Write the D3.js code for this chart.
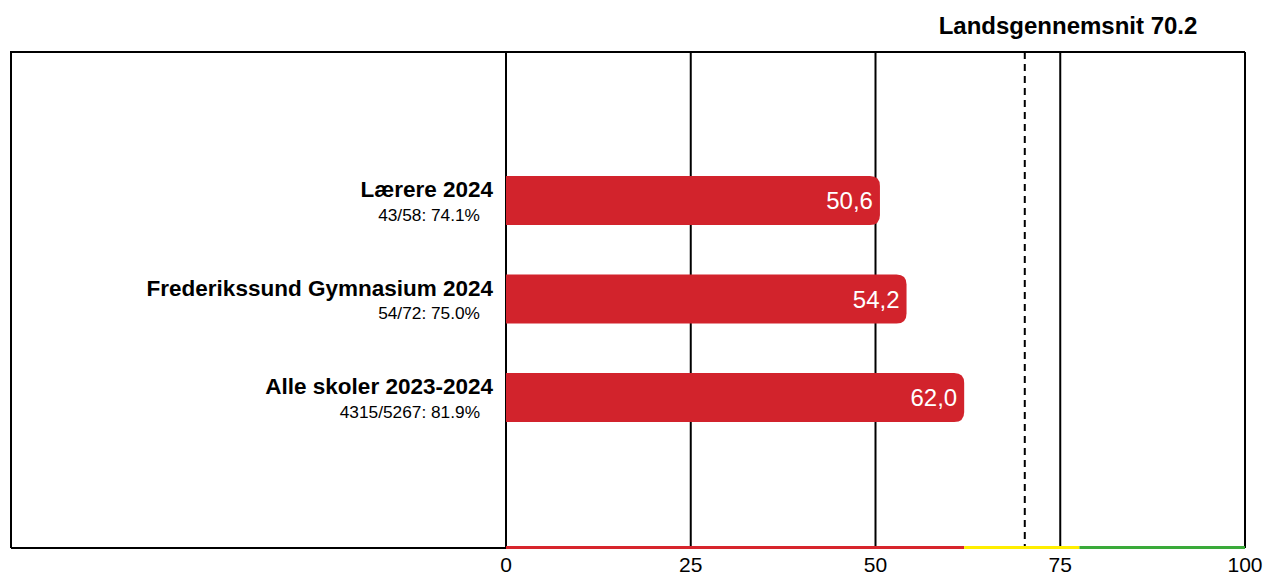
<!DOCTYPE html>
<html><head><meta charset="utf-8">
<script src="https://cdn.jsdelivr.net/npm/d3@7"></script>
<style>body{margin:0;background:#fff}svg{display:block}text{font-family:"Liberation Sans",Arial,sans-serif}</style>
</head><body>
<svg id="c" width="1266" height="577"></svg>
<script>
const categories = ["Lærere 2024", "Frederikssund Gymnasium 2024", "Alle skoler 2023-2024"];
const subLabels = ["43/58: 74.1%", "54/72: 75.0%", "4315/5267: 81.9%"];
const values = [50.6, 54.2, 62.0];
const valueLabels = ["50,6", "54,2", "62,0"];
const ticks = [0, 25, 50, 75, 100];
const average = 70.2;
const averageLabel = "Landsgennemsnit 70.2";
const bandLimits = [0, 62, 77.6, 100];
const bandColors = ["#d7252c", "#ffee00", "#3aaa3a"];

const svg = d3.select("#c");
const x = d3.scaleLinear().domain([0, 100]).range([506, 1245]);
const y = d3.scalePoint().domain(categories).range([200.5, 397.5]);
const barH = 49;

// frame
svg.append("path").attr("d", `M11,548 V52 H1245`).attr("fill","none").attr("stroke","#000").attr("stroke-width",2);
svg.append("line").attr("x1",11).attr("x2",x(0)).attr("y1",548).attr("y2",548).attr("stroke","#000").attr("stroke-width",2);

// gridlines
svg.selectAll(".g").data(ticks).join("line")
  .attr("x1", d=>x(d)).attr("x2", d=>x(d)).attr("y1",52).attr("y2",548)
  .attr("stroke","#000").attr("stroke-width",2);

// bands
svg.selectAll(".b").data(bandColors).join("line")
  .attr("x1", (d,i)=>x(bandLimits[i])).attr("x2", (d,i)=>x(bandLimits[i+1])).attr("y1",547.5).attr("y2",547.5)
  .attr("stroke", d=>d).attr("stroke-width",3);

// average dashed
svg.append("line").attr("x1",x(average)).attr("x2",x(average)).attr("y1",52).attr("y2",546)
  .attr("stroke","#000").attr("stroke-width",2).attr("stroke-dasharray","7,5");
svg.append("text").attr("x",1068).attr("y",34).attr("text-anchor","middle")
  .attr("font-size",24).attr("font-weight","bold").text(averageLabel);

// bars with rounded right end
const r = 10;
function barPath(x0, x1, y0, h){
  return `M${x0},${y0} H${x1-r} Q${x1},${y0} ${x1},${y0+r} V${y0+h-r} Q${x1},${y0+h} ${x1-r},${y0+h} H${x0} Z`;
}
const g = svg.selectAll(".bar").data(categories).join("g");
g.append("path").attr("d", (d,i)=>barPath(x(0), x(values[i]), y(d)-barH/2, barH))
  .attr("fill","#d2232c");
g.append("text").attr("x",(d,i)=>x(values[i])-7).attr("y",d=>y(d)+8.5)
  .attr("text-anchor","end").attr("fill","#fff").attr("font-size",24).text((d,i)=>valueLabels[i]);
g.append("text").attr("x",493).attr("y",d=>y(d)-3.5)
  .attr("text-anchor","end").attr("font-size",22.5).attr("font-weight","bold").text(d=>d);
g.append("text").attr("x",480).attr("y",d=>y(d)+20)
  .attr("text-anchor","end").attr("font-size",17.3).text((d,i)=>subLabels[i]);

// tick labels
svg.selectAll(".t").data(ticks).join("text")
  .attr("x", d=>x(d)).attr("y",572).attr("text-anchor","middle").attr("font-size",21).text(d=>d);
</script>
</body></html>
